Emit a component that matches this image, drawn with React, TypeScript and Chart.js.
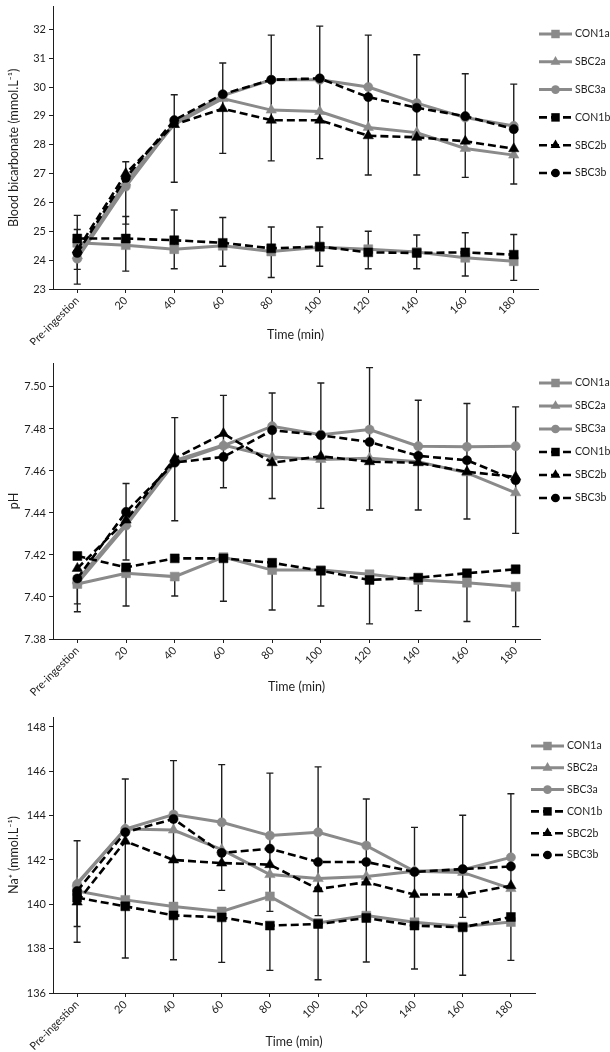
import React, { useEffect, useRef } from 'react';
import { Chart, registerables } from 'chart.js';

Chart.register(...registerables);

// ---------- shared categories / series ----------
const timeLabels = ['Pre-ingestion', '20', '40', '60', '80', '100', '120', '140', '160', '180'];
const seriesNames = ['CON1a', 'SBC2a', 'SBC3a', 'CON1b', 'SBC2b', 'SBC3b'];

// ---------- Panel 1: blood bicarbonate (mmol.L-1) ----------
const bicCON1a = [24.6, 24.52, 24.38, 24.5, 24.3, 24.45, 24.38, 24.28, 24.08, 23.96];
const bicSBC2a = [24.15, 26.7, 28.7, 29.6, 29.2, 29.15, 28.6, 28.42, 27.87, 27.64];
const bicSBC3a = [24.05, 26.55, 28.75, 29.7, 30.25, 30.25, 30.0, 29.44, 28.94, 28.65];
const bicCON1b = [24.75, 24.75, 24.69, 24.6, 24.41, 24.47, 24.27, 24.25, 24.27, 24.19];
const bicSBC2b = [24.35, 27.0, 28.7, 29.25, 28.85, 28.85, 28.31, 28.26, 28.12, 27.86];
const bicSBC3b = [24.25, 26.85, 28.85, 29.75, 30.25, 30.3, 29.65, 29.28, 28.99, 28.54];
// error bars (SD): SBC group drawn on SBC3b, CON group drawn on CON1b
const bicSbcUp = [0.81, 0.56, 0.88, 1.08, 1.55, 1.81, 2.15, 1.84, 1.47, 1.56];
const bicSbcDown = [0.57, 1.6, 2.15, 2.05, 2.81, 2.78, 2.7, 2.33, 2.12, 1.9];
const bicConUp = [0.8, 0.76, 1.05, 0.88, 0.74, 0.68, 0.73, 0.62, 0.68, 0.7];
const bicConDown = [1.58, 1.13, 0.99, 0.81, 1.01, 0.68, 0.57, 0.55, 0.82, 0.89];
const bicTicks = [23, 24, 25, 26, 27, 28, 29, 30, 31, 32];

// ---------- Panel 2: pH ----------
const phCON1a = [7.4062, 7.4113, 7.4097, 7.419, 7.4128, 7.4128, 7.4108, 7.4081, 7.4068, 7.4049];
const phSBC2a = [7.408, 7.435, 7.465, 7.4723, 7.4667, 7.4655, 7.466, 7.4644, 7.4591, 7.4496];
const phSBC3a = [7.4065, 7.434, 7.464, 7.472, 7.4813, 7.4773, 7.4797, 7.4718, 7.4715, 7.4718];
const phCON1b = [7.4195, 7.4141, 7.4184, 7.4184, 7.4163, 7.4125, 7.4081, 7.4092, 7.4113, 7.4132];
const phSBC2b = [7.4136, 7.4366, 7.466, 7.4778, 7.4639, 7.467, 7.4644, 7.4639, 7.4596, 7.4572];
const phSBC3b = [7.4088, 7.4405, 7.464, 7.4667, 7.4794, 7.477, 7.4738, 7.4672, 7.4651, 7.4556];
const phSbcUp = [0, 0.0135, 0.0214, 0.0293, 0.0177, 0.0249, 0.0354, 0.0265, 0.027, 0.0349];
const phSbcDown = [0.0121, 0.0229, 0.0277, 0.0147, 0.0325, 0.0348, 0.0324, 0.0258, 0.028, 0.0253];
const phConUp = [0, 0, 0, 0, 0, 0, 0, 0, 0, 0];
const phConDown = [0.0132, 0.0156, 0.0092, 0.021, 0.019, 0.0171, 0.0236, 0.0146, 0.0185, 0.019];
const phTicks = [7.38, 7.4, 7.42, 7.44, 7.46, 7.48, 7.5];

// ---------- Panel 3: Na+ (mmol.L-1) ----------
const naCON1a = [140.6, 140.2, 139.9, 139.68, 140.36, 139.16, 139.49, 139.19, 139.0, 139.2];
const naSBC2a = [140.95, 143.4, 143.35, 142.47, 141.34, 141.16, 141.26, 141.49, 141.44, 140.71];
const naSBC3a = [140.9, 143.4, 144.05, 143.7, 143.1, 143.25, 142.65, 141.49, 141.56, 142.12];
const naCON1b = [140.3, 139.91, 139.5, 139.41, 139.04, 139.11, 139.38, 139.04, 138.96, 139.43];
const naSBC2b = [140.1, 142.85, 142.0, 141.86, 141.79, 140.69, 141.0, 140.44, 140.44, 140.84];
const naSBC3b = [140.6, 143.25, 143.85, 142.32, 142.51, 141.91, 141.91, 141.46, 141.59, 141.71];
const naSbcUp = [2.27, 2.4, 2.63, 3.98, 3.41, 4.29, 2.84, 2.01, 2.43, 3.28];
const naSbcDown = [1.6, 3.05, 3.95, 1.69, 2.83, 2.42, 2.46, 2.31, 2.18, 2.41];
const naConUp = [0, 0, 0, 0, 0, 0, 0, 0, 0, 0];
const naConDown = [2.01, 2.33, 2.0, 2.03, 2.02, 2.51, 1.98, 1.96, 2.16, 1.96];
const naTicks = [136, 138, 140, 142, 144, 146, 148];

// ---------- styling ----------
const GRAY = '#8a8a8a';
const BLACK = '#000000';
const INK = '#1e1e1e';
const FONT = 'Lato, "Noto Sans", sans-serif';

type PanelSpec = {
  key: string;
  height: number;
  padTop: number;
  padRight: number;
  xHeight: number;
  yMin: number;
  yMax: number;
  ticks: number[];
  decimals: number;
  yTitle: string;
  series: number[][];
  sbcErr: { series: number; up: number[]; down: number[] };
  conErr: { series: number; up: number[]; down: number[] };
  legend: { x: number; y: number; step: number };
};

const panels: PanelSpec[] = [
  {
    key: 'bic', height: 345, padTop: 1, padRight: 72, xHeight: 56,
    yMin: 23, yMax: 32.78, ticks: bicTicks, decimals: 0,
    yTitle: 'Blood bicarbonate (mmol.L\u207B\u00B9)',
    series: [bicCON1a, bicSBC2a, bicSBC3a, bicCON1b, bicSBC2b, bicSBC3b],
    sbcErr: { series: 5, up: bicSbcUp, down: bicSbcDown },
    conErr: { series: 3, up: bicConUp, down: bicConDown },
    legend: { x: 539, y: 34, step: 27.8 },
  },
  {
    key: 'ph', height: 352, padTop: 18, padRight: 70, xHeight: 58,
    yMin: 7.38, yMax: 7.5114, ticks: phTicks, decimals: 2,
    yTitle: 'pH',
    series: [phCON1a, phSBC2a, phSBC3a, phCON1b, phSBC2b, phSBC3b],
    sbcErr: { series: 5, up: phSbcUp, down: phSbcDown },
    conErr: { series: 0, up: phConUp, down: phConDown },
    legend: { x: 539, y: 38, step: 23 },
  },
  {
    key: 'na', height: 355, padTop: 20, padRight: 75, xHeight: 59,
    yMin: 136, yMax: 148.45, ticks: naTicks, decimals: 0,
    yTitle: 'Na\u207A (mmol.L\u207B\u00B9)',
    series: [naCON1a, naSBC2a, naSBC3a, naCON1b, naSBC2b, naSBC3b],
    sbcErr: { series: 5, up: naSbcUp, down: naSbcDown },
    conErr: { series: 3, up: naConUp, down: naConDown },
    legend: { x: 531, y: 49, step: 21.8 },
  },
];

const shapes = ['rect', 'triangle', 'circle'];

function markerRadius(shape: string) {
  if (shape === 'rect') return 6.3;
  if (shape === 'triangle') return 6;
  return 4.6;
}

function drawMarker(ctx: CanvasRenderingContext2D, shape: string, x: number, y: number, r: number, color: string) {
  ctx.fillStyle = color;
  ctx.beginPath();
  if (shape === 'rect') {
    const s = Math.SQRT1_2 * r;
    ctx.rect(x - s, y - s, 2 * s, 2 * s);
  } else if (shape === 'triangle') {
    for (let k = 0; k < 3; k++) {
      const a = k * (2 * Math.PI / 3);
      const px = x + Math.sin(a) * r;
      const py = y - Math.cos(a) * r;
      if (k === 0) ctx.moveTo(px, py); else ctx.lineTo(px, py);
    }
    ctx.closePath();
  } else {
    ctx.arc(x, y, r, 0, Math.PI * 2);
  }
  ctx.fill();
}

function buildConfig(spec: PanelSpec): any {
  const datasets = spec.series.map((values, i) => {
    const isB = i >= 3;
    const shape = shapes[i % 3];
    const color = isB ? BLACK : GRAY;
    return {
      label: seriesNames[i],
      data: values,
      borderColor: color,
      backgroundColor: color,
      borderWidth: isB ? 2.6 : 3,
      borderDash: isB ? [8, 4] : [],
      pointStyle: shape,
      pointRadius: markerRadius(shape),
      pointBackgroundColor: color,
      pointBorderColor: color,
      pointBorderWidth: 0.5,
      tension: 0,
      fill: false,
      order: isB ? 0 : 1,
    };
  });

  const errorBars = {
    id: 'errorBars-' + spec.key,
    beforeDatasetsDraw(chart: any) {
      const { ctx } = chart;
      const x = chart.scales.x;
      const y = chart.scales.y;
      ctx.save();
      ctx.strokeStyle = INK;
      ctx.lineWidth = 1.4;
      [spec.sbcErr, spec.conErr].forEach((g) => {
        const base = spec.series[g.series];
        base.forEach((v, i) => {
          const px = x.getPixelForValue(i);
          const up = g.up[i] || 0;
          const down = g.down[i] || 0;
          const yTop = y.getPixelForValue(v + up);
          const yBot = y.getPixelForValue(v - down);
          ctx.beginPath();
          ctx.moveTo(px, yTop);
          ctx.lineTo(px, yBot);
          if (up > 0) { ctx.moveTo(px - 3.5, yTop); ctx.lineTo(px + 3.5, yTop); }
          if (down > 0) { ctx.moveTo(px - 3.5, yBot); ctx.lineTo(px + 3.5, yBot); }
          ctx.stroke();
        });
      });
      ctx.restore();
    },
  };

  const sideLegend = {
    id: 'sideLegend-' + spec.key,
    afterDraw(chart: any) {
      const { ctx } = chart;
      const L = spec.legend;
      ctx.save();
      chart.data.datasets.forEach((ds: any, i: number) => {
        const yy = L.y + i * L.step;
        const x0 = L.x;
        const x1 = L.x + 33;
        ctx.strokeStyle = ds.borderColor;
        ctx.lineWidth = ds.borderWidth;
        ctx.setLineDash(ds.borderDash || []);
        ctx.beginPath();
        ctx.moveTo(x0, yy);
        ctx.lineTo(x1, yy);
        ctx.stroke();
        ctx.setLineDash([]);
        drawMarker(ctx, ds.pointStyle, (x0 + x1) / 2, yy, ds.pointRadius * 0.95, ds.pointBackgroundColor);
        ctx.fillStyle = INK;
        ctx.font = '10.5px ' + FONT;
        ctx.textAlign = 'left';
        ctx.textBaseline = 'middle';
        ctx.fillText(ds.label, x1 + 3, yy);
      });
      ctx.restore();
    },
  };

  return {
    type: 'line',
    data: { labels: timeLabels, datasets },
    plugins: [errorBars, sideLegend],
    options: {
      animation: false,
      responsive: false,
      maintainAspectRatio: false,
      layout: { padding: { top: spec.padTop, right: spec.padRight, left: 0, bottom: 0 } },
      plugins: { legend: { display: false }, tooltip: { enabled: false } },
      font: { family: FONT },
      scales: {
        x: {
          type: 'category',
          offset: true,
          grid: { display: true, drawOnChartArea: false, drawTicks: true, tickLength: 4, color: INK, offset: false },
          border: { display: true, color: INK, width: 1 },
          ticks: {
            autoSkip: false, minRotation: 45, maxRotation: 45, padding: 1,
            color: INK, font: { family: FONT, size: 11 },
          },
          title: {
            display: true, text: 'Time (min)', color: INK,
            font: { family: FONT, size: 12.5 }, padding: { top: 0, bottom: 3 },
          },
          afterFit(scale: any) {
            scale.height = spec.xHeight;
            scale.paddingLeft = 0;
            scale.paddingRight = 0;
          },
        },
        y: {
          type: 'linear',
          min: spec.yMin,
          max: spec.yMax,
          grid: { display: true, drawOnChartArea: false, drawTicks: true, tickLength: 4, color: INK },
          border: { display: true, color: INK, width: 1 },
          ticks: {
            color: INK, padding: 3, font: { family: FONT, size: 11 },
            callback: (v: any) => Number(v).toFixed(spec.decimals),
          },
          afterBuildTicks(scale: any) {
            scale.ticks = spec.ticks.map((v) => ({ value: v }));
          },
          title: {
            display: true, text: spec.yTitle, color: INK,
            font: { family: FONT, size: 12.5 }, padding: { top: 6, bottom: 0 },
          },
          afterFit(scale: any) {
            scale.width = 53;
            scale.paddingTop = 0;
            scale.paddingBottom = 0;
          },
        },
      },
    },
  };
}

function Panel({ spec }: { spec: PanelSpec }) {
  const ref = useRef<HTMLCanvasElement | null>(null);
  useEffect(() => {
    if (!ref.current) return;
    const chart = new Chart(ref.current, buildConfig(spec));
    return () => chart.destroy();
  }, [spec]);
  return (
    <canvas
      ref={ref}
      width={610}
      height={spec.height}
      style={{ display: 'block', width: 610, height: spec.height }}
    />
  );
}

export default function App() {
  return (
    <div style={{ position: 'absolute', left: 0, top: 0, width: 610, height: 1052, background: '#ffffff' }}>
      {panels.map((p) => (
        <Panel key={p.key} spec={p} />
      ))}
    </div>
  );
}
